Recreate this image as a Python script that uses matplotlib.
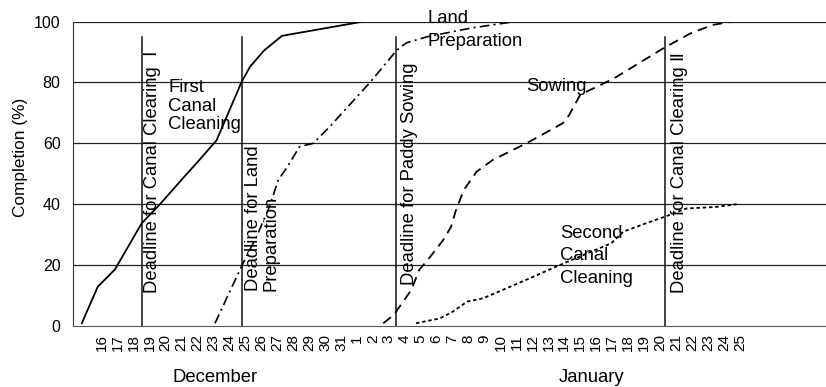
import matplotlib.pyplot as plt

plt.rcParams['font.family'] = ['Liberation Sans', 'DejaVu Sans']
plt.rcParams['lines.scale_dashes'] = False

# day index: 0 = Dec 16 ... 15 = Dec 31, 16 = Jan 1 ... 40 = Jan 25
day_labels = [str(d) for d in range(16, 32)] + [str(d) for d in range(1, 26)]

# First canal cleaning (solid)
first_x = [-1.25, -0.25, 0.83, 2.5, 3.65, 5.0, 6.2, 7.2, 8.77, 9.3, 10.2, 11.3, 16.4]
first_y = [0.9, 12.9, 18.6, 33.7, 40.0, 48.0, 55.0, 61.0, 80.2, 85.2, 90.6, 95.3, 100]

# Land preparation (dash-dot)
land_x = [7.1, 7.83, 8.8, 9.7, 10.5, 11.07, 11.6, 12.4, 13.26, 14.3, 15.6, 16.8,
          18.5, 19.1, 20.4, 23.1, 25.9]
land_y = [0.9, 9.1, 20.0, 29.3, 39.0, 48.0, 52.0, 58.9, 60.0, 65.5, 73.0, 79.9,
          90.6, 93.0, 95.0, 97.8, 100]

# Sowing (long dash)
sow_x = [17.65, 18.3, 19.4, 19.9, 20.6, 21.4, 21.9, 22.2, 22.7, 23.5, 24.5, 26.8,
         28.9, 29.3, 30.0, 30.8, 32.1, 35.2, 36.9, 38.3, 39.6]
sow_y = [0.9, 3.6, 11.8, 18.4, 22.8, 28.2, 32.6, 38.0, 44.7, 50.7, 54.5, 60.5,
         66.6, 69.3, 76.0, 78.0, 81.3, 91.2, 96.1, 98.9, 100]

# Second canal cleaning (short dash)
second_x = [19.7, 21.2, 22.0, 22.9, 23.9, 25.6, 26.8, 28.7, 30.5, 31.95, 32.7,
            34.1, 35.3, 36.65, 38.5, 39.8]
second_y = [0.9, 2.5, 4.7, 8.0, 9.1, 12.9, 15.6, 20.0, 24.0, 27.2, 31.0,
            33.7, 35.9, 38.6, 39.1, 40.0]

# deadlines
deadline_x = [2.5, 8.8, 18.45, 35.3]
deadline_text = ['Deadline for Canal Clearing  \u2160', 'Deadline for Land\nPreparation',
                 'Deadline for Paddy Sowing', 'Deadline for Canal Clearing \u2161']
deadline_text_x = [3.18, 10.05, 19.3, 36.2]
deadline_text_y = [10.8, 11.5, 13.5, 10.8]

fig = plt.figure(figsize=(8.26, 3.87), dpi=100)
ax = fig.add_axes([0.0884, 0.1576, 0.9116, 0.7868])

for y in [20, 40, 60, 80, 100]:
    ax.axhline(y, color='#222222', lw=0.9, zorder=1)

for x in deadline_x:
    ax.plot([x, x], [0, 94.8], color='#111111', lw=1.1, zorder=2)

ax.plot(first_x, first_y, color='black', lw=1.3, zorder=3)
ax.plot(land_x, land_y, color='black', lw=1.2, dashes=(7, 3, 1.5, 3), zorder=3)
ax.plot(sow_x, sow_y, color='black', lw=1.3, dashes=(7, 4.5), zorder=3)
ax.plot(second_x, second_y, color='black', lw=1.3, dashes=(2.5, 2), zorder=3)

for tx, ty, t in zip(deadline_text_x, deadline_text_y, deadline_text):
    ax.text(tx, ty, t, rotation=90, ha='center', va='bottom', fontsize=13.3,
            multialignment='left', linespacing=1.0, zorder=4)

ax.text(4.17, 72.2, 'First\nCanal\nCleaning', fontsize=13.3, va='center', ha='left',
        linespacing=1.13, zorder=4)
ax.text(20.4, 97.2, 'Land\nPreparation', fontsize=13.3, va='center', ha='left',
        linespacing=1.45, zorder=4)
ax.text(26.63, 78.6, 'Sowing', fontsize=13.3, va='center', ha='left', zorder=4)
ax.text(28.72, 23.0, 'Second\nCanal\nCleaning', fontsize=13.3, va='center', ha='left',
        linespacing=1.44, zorder=4)

ax.set_xlim(-1.8, 45.4)
ax.set_ylim(0, 100)
ax.set_xticks(range(len(day_labels)))
ax.set_xticklabels(day_labels, rotation=90, fontsize=11)
ax.set_yticks([0, 20, 40, 60, 80, 100])
ax.tick_params(axis='y', length=0, pad=9, labelsize=11.5)
ax.tick_params(axis='x', length=0, pad=6)
ax.set_ylabel('Completion (%)', fontsize=12.4)
ax.yaxis.set_label_coords(-0.06, 0.555)

for s in ['top', 'right']:
    ax.spines[s].set_visible(False)
ax.spines['left'].set_color('#333333')
ax.spines['bottom'].set_color('#555555')

fig.text(215 / 826, 1 - 377 / 387, 'December', fontsize=13.3, ha='center', va='center')
fig.text(592 / 826, 1 - 377 / 387, 'January', fontsize=13.3, ha='center', va='center')

plt.savefig('out.png', dpi=100)
